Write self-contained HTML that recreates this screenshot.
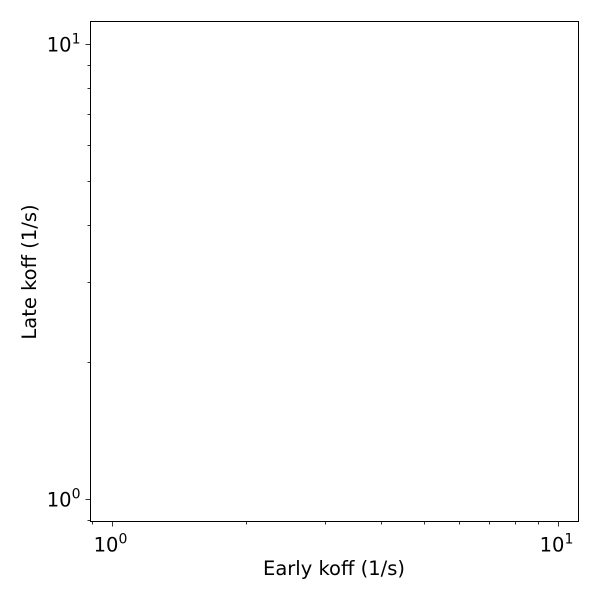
<!DOCTYPE html>
<html><head><meta charset="utf-8"><style>
html,body{margin:0;padding:0;background:#fff;}
svg text{font-family:"DejaVu Sans","Liberation Sans",sans-serif;fill:#000;}
</style></head><body>
<svg id="chart" width="600" height="600" viewBox="0 0 600 600">
<rect x="0" y="0" width="600" height="600" fill="#fff"/>
<g id="ticks"></g>
<rect x="90.5" y="21.5" width="488" height="500" fill="none" stroke="#000" stroke-width="1"/>
<text x="334" y="575" font-size="19.5" text-anchor="middle">Early koff (1/s)</text>
<text transform="translate(36,272) rotate(-90)" font-size="19.5" text-anchor="middle">Late koff (1/s)</text>
</svg>
<script>
const xMajorTicks = [1, 10];
const yMajorTicks = [1, 10];
const minorMultipliers = [0.9, 2, 3, 4, 5, 6, 7, 8, 9];
const seriesX = [];
const seriesY = [];
const L = 90.5, R = 578.5, T = 21.5, B = 521.5;
function xs(v){ return 112 + Math.log10(v) * 446; }
function ys(v){ return 499 - Math.log10(v) * 455; }
const NS = "http://www.w3.org/2000/svg";
const g = document.getElementById('ticks');
function line(x1,y1,x2,y2,name){
  const l = document.createElementNS(NS,'line');
  l.setAttribute('x1',x1);l.setAttribute('y1',y1);l.setAttribute('x2',x2);l.setAttribute('y2',y2);
  l.setAttribute('stroke','#000');l.setAttribute('stroke-width','0.8');
  
  
  g.appendChild(l);
}
function label(x,y,anchor,exp,name){
  const t = document.createElementNS(NS,'text');
  t.setAttribute('x',x);t.setAttribute('y',y);t.setAttribute('text-anchor',anchor);t.setAttribute('font-size','19.5');
  t.textContent='10';
  const s = document.createElementNS(NS,'tspan');
  s.setAttribute('dy','-8');s.setAttribute('font-size','14');s.textContent=exp;
  t.appendChild(s);
  
  
  g.appendChild(t);
}
xMajorTicks.forEach(v=>{
  const x = Math.round(xs(v))+0.5;
  line(x,B,x,B+5,'x-major-tick');
  label(x-2,B+30,'middle',String(Math.round(Math.log10(v))),'x-tick-label');
});
yMajorTicks.forEach(v=>{
  const y = Math.round(ys(v))+0.5;
  line(L-5,y,L,y,'y-major-tick');
  label(L-10,y+7,'end',String(Math.round(Math.log10(v))),'y-tick-label');
});
minorMultipliers.forEach(m=>{
  const x = xs(m);
  if(x>=L && x<=R){ line(Math.round(x)+0.5,B,Math.round(x)+0.5,B+3,'x-minor-tick'); }
  const y = ys(m);
  if(y>=T && y<=B){ line(L-3,Math.round(y)+0.5,L,Math.round(y)+0.5,'y-minor-tick'); }
});
</script>
</body></html>
